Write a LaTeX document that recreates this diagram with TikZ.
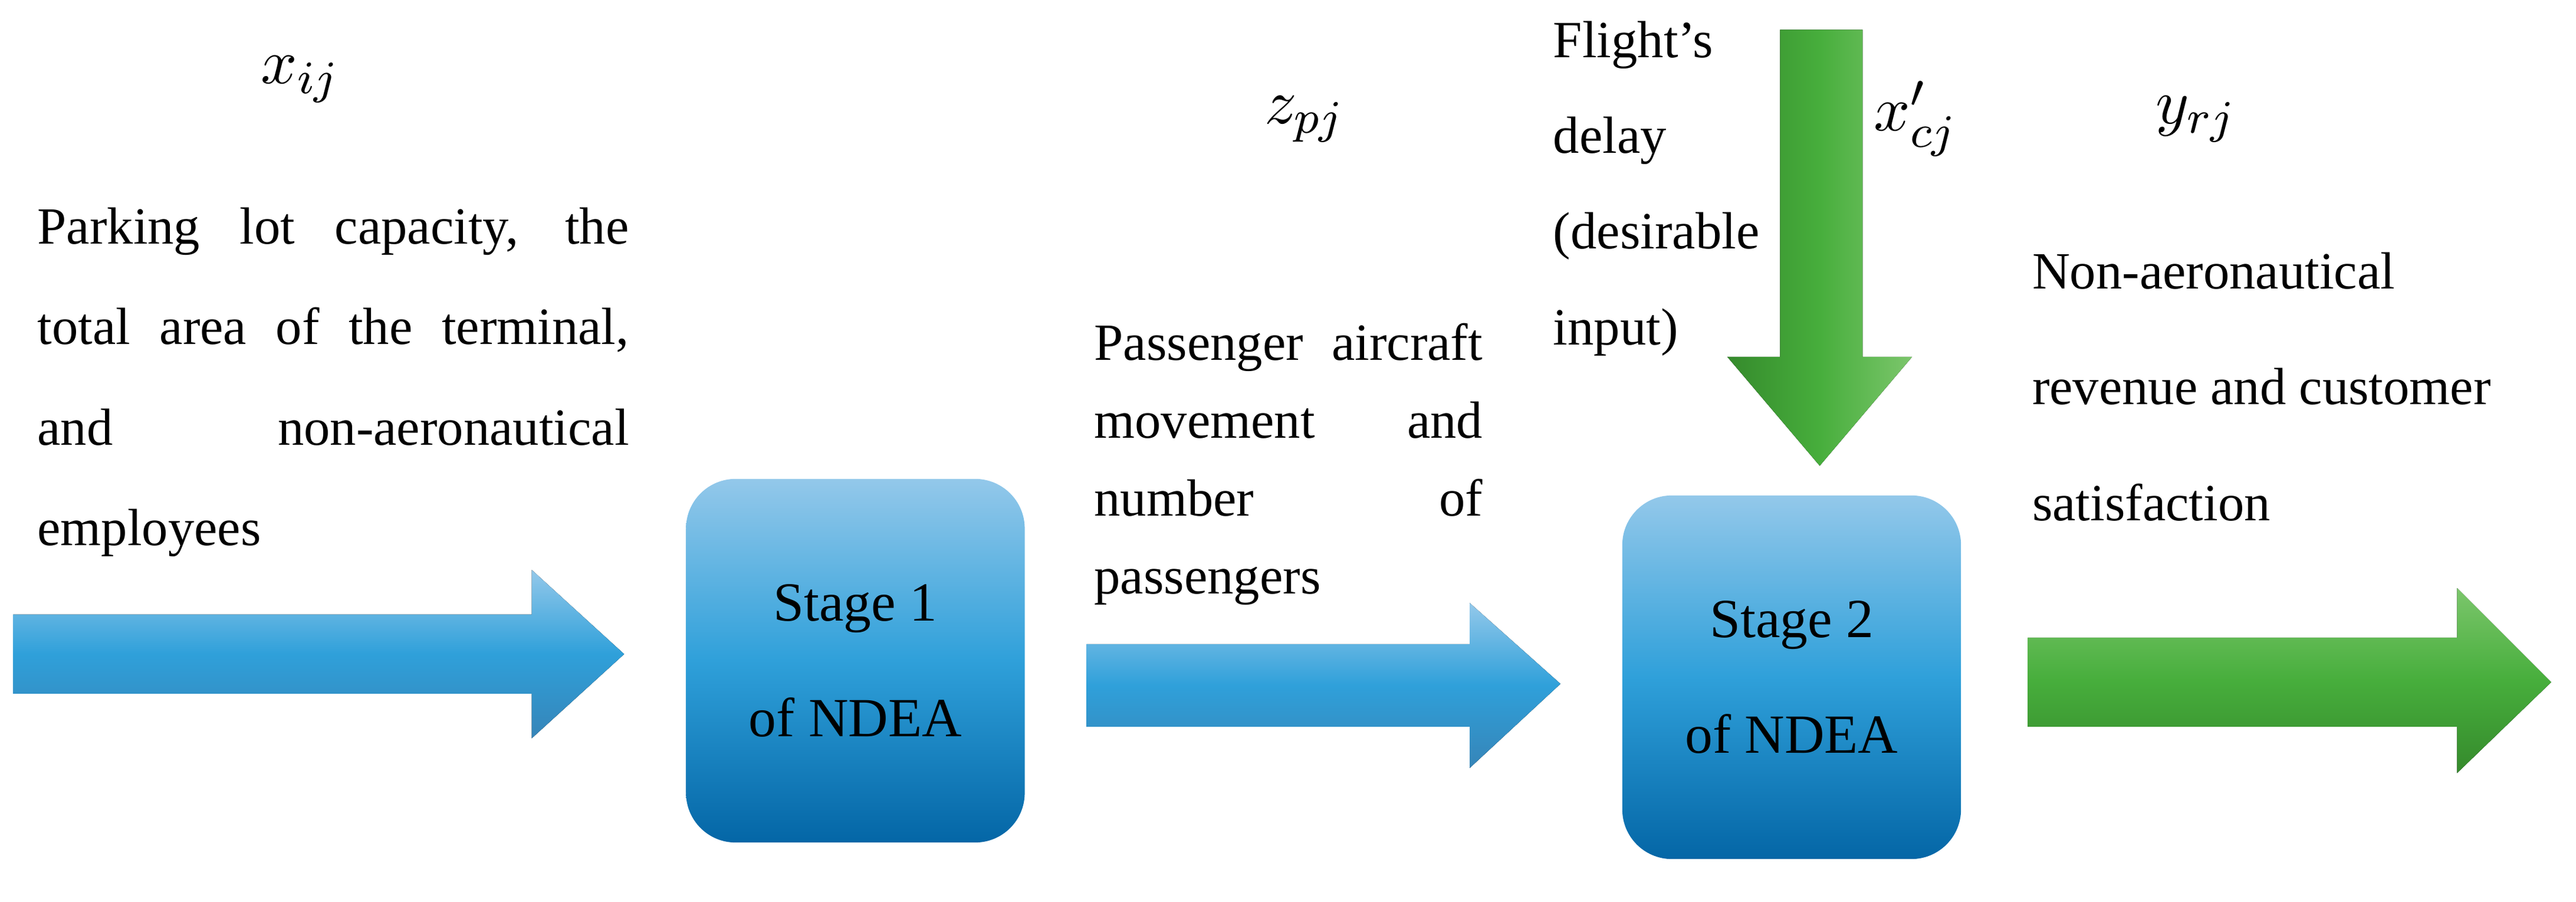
\documentclass[tikz,border=0pt]{standalone}
\usepackage{fontspec}
\setmainfont{Liberation Serif}
\definecolor{btop}{HTML}{93C8EA}
\definecolor{bmid}{HTML}{2FA0DA}
\definecolor{bbot}{HTML}{0466A6}
\definecolor{gtop}{HTML}{7CC66C}
\definecolor{gmid}{HTML}{47AE3C}
\definecolor{gbot}{HTML}{358A2C}
\begin{document}
\begin{tikzpicture}[x=0.01cm,y=-0.01cm,
  txt/.style={inner sep=0pt, anchor=north west, align=left},
  mth/.style={font=\fontsize{11}{13}\selectfont, inner sep=0pt},
  stage/.style={rounded corners=0.3cm, top color=btop, bottom color=bbot, middle color=bmid, minimum width=2.05cm, minimum height=2.2cm, align=center, font=\fontsize{9.5}{20}\selectfont, inner sep=0pt},
  blu/.style={top color=btop, bottom color=bbot!80, middle color=bmid},
  grn/.style={top color=gtop, bottom color=gbot, middle color=gmid}]
\useasboundingbox (0,0) rectangle (1560,546);
% texts
\node[mth] (xij) at (182,48) {$x_{ij}$};
\node[txt] (t1) at (22,125) {\parbox[t]{3.58cm}{\fontsize{9}{17.3}\selectfont Parking lot capacity, the\linebreak total area of the terminal,\linebreak and non-aeronautical\linebreak employees}};
\node[mth] (zpj) at (790,72) {$z_{pj}$};
\node[txt] (t2) at (662,195) {\parbox[t]{2.35cm}{\fontsize{9}{13.4}\selectfont Passenger aircraft\linebreak movement and\linebreak number of\linebreak passengers}};
\node[txt] (t3) at (940,12) {\parbox[t]{2cm}{\fontsize{9}{16.5}\selectfont Flight's\\ delay\\ (desirable\\ input)}};
\node[mth] (xcj) at (1160,72) {$x'_{cj}$};
\node[mth] (yrj) at (1330,72) {$y_{rj}$};
\node[txt] (t4) at (1230,152) {\parbox[t]{3.3cm}{\fontsize{9}{20}\selectfont Non-aeronautical\\ revenue and customer\\ satisfaction}};
% arrows
\fill[blu] (8,372) -- (322,372) -- (322,345) -- (378,396) -- (322,447) -- (322,420) -- (8,420) -- cycle;
\fill[blu] (658,390) -- (890,390) -- (890,365) -- (945,414) -- (890,465) -- (890,440) -- (658,440) -- cycle;
\fill[grn] (1228,386) -- (1488,386) -- (1488,356) -- (1545,413) -- (1488,468) -- (1488,440) -- (1228,440) -- cycle;
\fill[left color=gbot, right color=gtop, middle color=gmid] (1078,18) -- (1128,18) -- (1128,216) -- (1158,216) -- (1102,282) -- (1046,216) -- (1078,216) -- cycle;
% stages
\node[stage] (s1) at (518,400) {Stage 1\\ of NDEA};
\node[stage] (s2) at (1085,410) {Stage 2\\ of NDEA};
\end{tikzpicture}
\end{document}
